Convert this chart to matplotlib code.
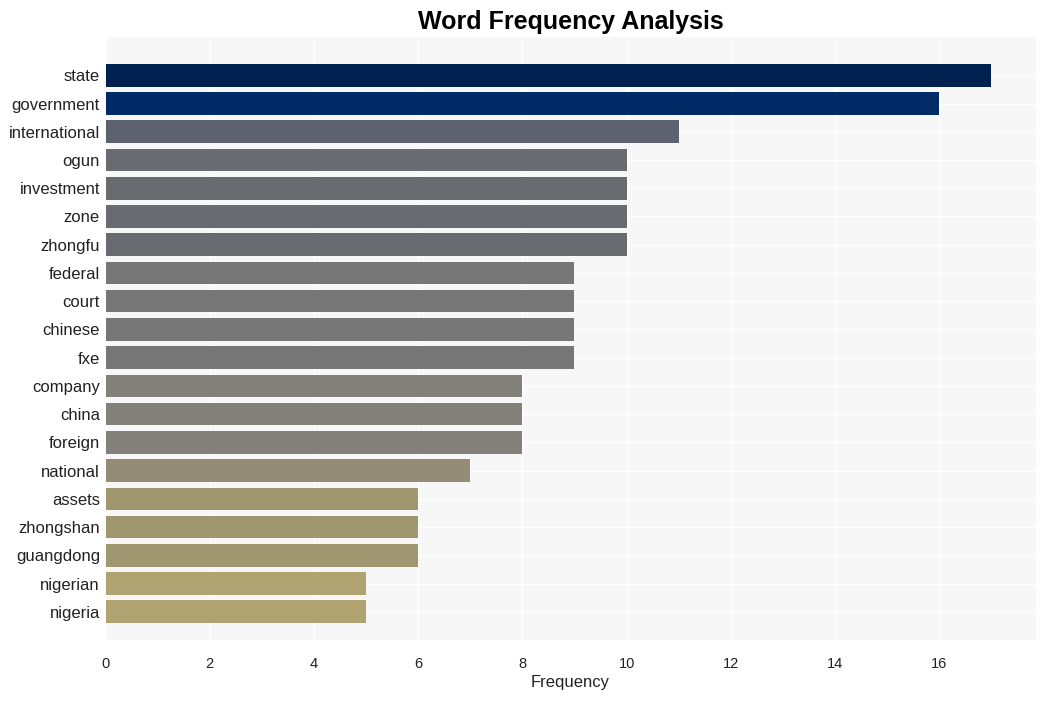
import numpy as np
import matplotlib
matplotlib.use("Agg")
import matplotlib.pyplot as plt

plt.rcParams['font.family'] = ['Liberation Sans', 'DejaVu Sans']

words = ["state", "government", "international", "ogun", "investment", "zone",
         "zhongfu", "federal", "court", "chinese", "fxe", "company", "china",
         "foreign", "national", "assets", "zhongshan", "guangdong", "nigerian",
         "nigeria"]
counts = [17, 16, 11, 10, 10, 10, 10, 9, 9, 9, 9, 8, 8, 8, 7, 6, 6, 6, 5, 5]

bar_colors = ["#00214f", "#002b66", "#5e6170", "#6a6b71", "#6a6b71", "#6a6b71",
              "#6a6b71", "#777777", "#777777", "#777777", "#777777", "#838079",
              "#838079", "#838079", "#948c76", "#a09670", "#a09670", "#a09670",
              "#b0a372", "#b0a372"]

fig, ax = plt.subplots(figsize=(10.45, 7.01), dpi=100)
fig.subplots_adjust(left=0.101, right=0.991, top=0.947, bottom=0.087)

y = np.arange(len(words))
ax.barh(y, counts, height=0.8, color=bar_colors, zorder=3)
ax.set_yticks(y)
ax.set_yticklabels(words, fontsize=12, color="#222222")
ax.set_ylim(len(words), -1.35)
ax.set_xlim(0, 17.85)
ax.set_xticks(np.arange(0, 17, 2))
ax.tick_params(axis='x', labelsize=10.5, colors="#222222", length=0, pad=12)
ax.tick_params(axis='y', length=0, pad=4)

ax.set_facecolor("#f7f7f7")
ax.grid(True, color="white", linewidth=1, zorder=0)
for s in ax.spines.values():
    s.set_visible(False)

ax.set_xlabel("Frequency", fontsize=12, color="#222222", labelpad=3)
ax.set_title("Word Frequency Analysis", fontsize=18, fontweight="bold", pad=6)

plt.savefig("out.png", dpi=100)
